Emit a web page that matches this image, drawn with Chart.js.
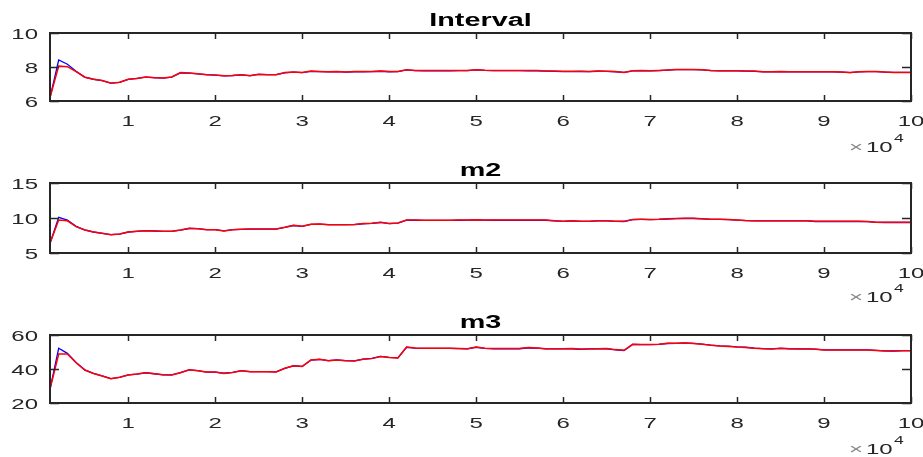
<!DOCTYPE html>
<html>
<head>
<meta charset="utf-8">
<script src="https://cdn.jsdelivr.net/npm/chart.js@4"></script>
<style>
  html, body { margin: 0; padding: 0; background: #fff; overflow: hidden; }
  #wrap { position: relative; width: 923px; height: 457px; }
  #wrap canvas { position: absolute; left: 0; }
</style>
</head>
<body>
<div id="wrap">
  <canvas id="c1" width="923" height="155" style="top:0px"></canvas>
  <canvas id="c2" width="923" height="155" style="top:150px"></canvas>
  <canvas id="c3" width="923" height="155" style="top:302px"></canvas>
</div>
<script>
// sample positions (iterations)
let iters = [
  1000, 2000, 3000, 4000, 5000, 6000, 7000, 8000, 9000, 10000,
  11000, 12000, 13000, 14000, 15000, 16000, 17000, 18000, 19000, 20000,
  21000, 22000, 23000, 24000, 25000, 26000, 27000, 28000, 29000, 30000,
  31000, 32000, 33000, 34000, 35000, 36000, 37000, 38000, 39000, 40000,
  41000, 42000, 43000, 44000, 45000, 46000, 47000, 48000, 49000, 50000,
  51000, 52000, 53000, 54000, 55000, 56000, 57000, 58000, 59000, 60000,
  61000, 62000, 63000, 64000, 65000, 66000, 67000, 68000, 69000, 70000,
  71000, 72000, 73000, 74000, 75000, 76000, 77000, 78000, 79000, 80000,
  81000, 82000, 83000, 84000, 85000, 86000, 87000, 88000, 89000, 90000,
  91000, 92000, 93000, 94000, 95000, 96000, 97000, 98000, 99000, 100000
];

let xTicks = [10000, 20000, 30000, 40000, 50000, 60000, 70000, 80000, 90000, 100000];

// Interval
let intervalBlue = [
  6.20, 8.41, 8.16, 7.75, 7.41, 7.28, 7.20, 7.05, 7.10, 7.27,
  7.33, 7.40, 7.37, 7.35, 7.40, 7.65, 7.64, 7.60, 7.55, 7.52,
  7.48, 7.50, 7.54, 7.49, 7.56, 7.55, 7.55, 7.66, 7.70, 7.67,
  7.74, 7.73, 7.71, 7.73, 7.70, 7.72, 7.72, 7.73, 7.75, 7.72,
  7.73, 7.83, 7.79, 7.78, 7.78, 7.78, 7.78, 7.79, 7.79, 7.83,
  7.80, 7.79, 7.79, 7.79, 7.79, 7.78, 7.78, 7.76, 7.74, 7.73,
  7.73, 7.74, 7.73, 7.75, 7.74, 7.72, 7.68, 7.77, 7.78, 7.77,
  7.79, 7.82, 7.84, 7.85, 7.85, 7.83, 7.79, 7.77, 7.77, 7.77,
  7.76, 7.74, 7.71, 7.71, 7.72, 7.71, 7.71, 7.71, 7.71, 7.71,
  7.71, 7.70, 7.67, 7.71, 7.73, 7.73, 7.70, 7.68, 7.68, 7.68
];
let intervalRed = [
  6.20, 8.05, 8.02, 7.73, 7.40, 7.28, 7.20, 7.05, 7.10, 7.28,
  7.33, 7.41, 7.37, 7.35, 7.41, 7.67, 7.65, 7.60, 7.55, 7.53,
  7.49, 7.50, 7.55, 7.49, 7.57, 7.55, 7.55, 7.67, 7.71, 7.67,
  7.76, 7.74, 7.72, 7.74, 7.71, 7.73, 7.73, 7.74, 7.76, 7.73,
  7.74, 7.84, 7.80, 7.79, 7.79, 7.79, 7.79, 7.80, 7.80, 7.84,
  7.81, 7.80, 7.80, 7.80, 7.80, 7.79, 7.79, 7.77, 7.76, 7.75,
  7.75, 7.75, 7.74, 7.76, 7.75, 7.73, 7.68, 7.78, 7.79, 7.78,
  7.80, 7.83, 7.85, 7.86, 7.86, 7.84, 7.80, 7.78, 7.78, 7.78,
  7.77, 7.76, 7.72, 7.72, 7.73, 7.72, 7.72, 7.72, 7.72, 7.72,
  7.72, 7.71, 7.67, 7.72, 7.74, 7.74, 7.70, 7.68, 7.68, 7.68
];

// m2
let m2Blue = [
  6.40, 10.10, 9.70, 8.80, 8.30, 8.00, 7.81, 7.62, 7.71, 8.00,
  8.10, 8.19, 8.14, 8.10, 8.10, 8.28, 8.50, 8.47, 8.33, 8.33,
  8.15, 8.33, 8.38, 8.42, 8.42, 8.42, 8.42, 8.66, 8.93, 8.80,
  9.08, 9.12, 9.04, 9.04, 9.04, 9.06, 9.18, 9.22, 9.36, 9.19,
  9.28, 9.69, 9.68, 9.66, 9.66, 9.66, 9.66, 9.68, 9.70, 9.72,
  9.70, 9.68, 9.68, 9.68, 9.68, 9.68, 9.68, 9.68, 9.60, 9.53,
  9.60, 9.53, 9.53, 9.60, 9.60, 9.53, 9.50, 9.78, 9.79, 9.78,
  9.80, 9.86, 9.90, 9.93, 9.93, 9.88, 9.80, 9.79, 9.78, 9.70,
  9.63, 9.60, 9.60, 9.60, 9.60, 9.60, 9.60, 9.58, 9.50, 9.50,
  9.50, 9.50, 9.50, 9.50, 9.48, 9.38, 9.36, 9.36, 9.36, 9.36
];
let m2Red = [
  6.40, 9.70, 9.60, 8.76, 8.29, 8.00, 7.81, 7.62, 7.71, 8.00,
  8.10, 8.19, 8.14, 8.10, 8.10, 8.29, 8.52, 8.48, 8.33, 8.33,
  8.14, 8.33, 8.38, 8.43, 8.43, 8.43, 8.43, 8.67, 8.95, 8.81,
  9.10, 9.14, 9.05, 9.05, 9.05, 9.07, 9.20, 9.24, 9.38, 9.20,
  9.30, 9.71, 9.70, 9.68, 9.68, 9.68, 9.68, 9.70, 9.72, 9.74,
  9.72, 9.70, 9.70, 9.70, 9.70, 9.70, 9.70, 9.70, 9.62, 9.55,
  9.62, 9.55, 9.55, 9.62, 9.62, 9.55, 9.52, 9.80, 9.81, 9.80,
  9.82, 9.88, 9.92, 9.95, 9.95, 9.90, 9.82, 9.81, 9.80, 9.72,
  9.65, 9.62, 9.62, 9.62, 9.62, 9.62, 9.62, 9.60, 9.52, 9.52,
  9.52, 9.52, 9.52, 9.52, 9.50, 9.40, 9.38, 9.38, 9.38, 9.38
];

// m3
let m3Blue = [
  28.2, 52.2, 49.2, 43.9, 39.5, 37.4, 35.9, 34.3, 35.1, 36.5,
  37.0, 37.8, 37.2, 36.6, 36.5, 37.8, 39.5, 39.0, 38.2, 38.2,
  37.5, 38.0, 39.0, 38.5, 38.5, 38.5, 38.3, 40.4, 41.9, 41.5,
  45.2, 45.6, 44.9, 45.3, 44.9, 44.8, 45.8, 46.3, 47.4, 46.8,
  46.5, 52.8, 52.3, 52.1, 52.1, 52.1, 52.1, 52.0, 51.8, 52.8,
  52.1, 51.9, 51.9, 51.9, 51.9, 52.5, 52.3, 51.8, 51.8, 51.8,
  51.9, 51.6, 51.8, 52.0, 51.9, 51.3, 50.9, 54.4, 54.3, 54.3,
  54.5, 55.0, 55.1, 55.3, 55.1, 54.6, 54.0, 53.6, 53.4, 53.0,
  52.8, 52.3, 52.0, 51.8, 52.1, 51.9, 51.8, 51.8, 51.7, 51.3,
  51.3, 51.3, 51.2, 51.2, 51.2, 51.0, 50.7, 50.6, 50.8, 50.8
];
let m3Red = [
  28.2, 48.8, 48.8, 43.7, 39.4, 37.4, 35.9, 34.3, 35.1, 36.5,
  37.0, 37.8, 37.2, 36.6, 36.5, 37.8, 39.6, 39.0, 38.2, 38.2,
  37.4, 38.0, 39.0, 38.4, 38.4, 38.4, 38.2, 40.4, 41.9, 41.5,
  45.3, 45.7, 44.9, 45.3, 44.9, 44.7, 45.7, 46.1, 47.3, 46.7,
  46.5, 52.9, 52.4, 52.2, 52.2, 52.2, 52.2, 52.1, 51.9, 52.9,
  52.2, 52.0, 52.0, 52.0, 52.0, 52.6, 52.4, 51.9, 51.9, 51.9,
  52.0, 51.7, 51.7, 51.9, 52.0, 51.4, 51.0, 54.5, 54.4, 54.4,
  54.5, 55.1, 55.2, 55.3, 55.0, 54.5, 53.9, 53.5, 53.3, 52.9,
  52.7, 52.2, 51.9, 51.7, 52.2, 51.9, 51.7, 51.7, 51.6, 51.2,
  51.2, 51.2, 51.2, 51.2, 51.2, 50.9, 50.6, 50.6, 50.8, 50.8
];

const SX = 1.6;              // horizontal text stretch
const AXIS_COLOR = '#262626';

function stretchText(ctx, text, x, y, align, font, color){
    ctx.save();
    ctx.font = font;
    ctx.fillStyle = color;
    ctx.textAlign = align;
    ctx.textBaseline = 'alphabetic';
    ctx.translate(x, y);
    ctx.scale(SX, 1);
    ctx.fillText(text, 0, 0);
    ctx.restore();
}

// box, inward ticks, labels, title and exponent, matlab style
const matlabAxes = {
    id: 'matlabAxes',
    afterDraw(chart, args, opts){
        const ctx = chart.ctx;
        const a = chart.chartArea;
        const xs = chart.scales.x;
        const ys = chart.scales.y;
        ctx.save();
        ctx.strokeStyle = AXIS_COLOR;
        ctx.lineWidth = 1.5;
        // inner tick marks
        ctx.beginPath();
        xs.ticks.forEach(function(t){
            let px = Math.round(xs.getPixelForValue(t.value)) + 0.5;
            ctx.moveTo(px, a.bottom); ctx.lineTo(px, a.bottom - 6);
            ctx.moveTo(px, a.top); ctx.lineTo(px, a.top + 6);
        });
        ys.ticks.forEach(function(t){
            let py = Math.round(ys.getPixelForValue(t.value)) + 0.5;
            ctx.moveTo(a.left, py); ctx.lineTo(a.left + 9, py);
            ctx.moveTo(a.right, py); ctx.lineTo(a.right - 9, py);
        });
        ctx.stroke();
        // box
        ctx.lineWidth = 2;
        ctx.strokeRect(a.left, a.top, a.right - a.left, a.bottom - a.top);
        ctx.restore();

        // tick labels
        const tickFont = '15px "Liberation Sans", Arial, sans-serif';
        xs.ticks.forEach(function(t){
            let px = xs.getPixelForValue(t.value);
            stretchText(ctx, String(t.value / 10000), px, a.bottom + 25, 'center', tickFont, AXIS_COLOR);
        });
        ys.ticks.forEach(function(t){
            let py = ys.getPixelForValue(t.value);
            stretchText(ctx, String(t.value), a.left - 12, py + 5.5, 'right', tickFont, AXIS_COLOR);
        });

        // title
        stretchText(ctx, opts.title, (a.left + a.right) / 2, a.top - 7,
            'center', 'bold 18px "Liberation Sans", Arial, sans-serif', '#000');

        // x exponent
        stretchText(ctx, '\u00d7', 856, 152, 'center', '15px "Liberation Sans", Arial, sans-serif', '#8a8a8a');
        stretchText(ctx, '10', 866, 152, 'left', tickFont, AXIS_COLOR);
        stretchText(ctx, '4', 894, 142, 'left', '11px "Liberation Sans", Arial, sans-serif', AXIS_COLOR);
    }
};

function makePlot(canvasId, title, blue, red, yMin, yMax, yTicks, bottom){
    let canvas = document.getElementById(canvasId);
    let toPoints = function(arr){
        return iters.map(function(x, i){ return {x: x, y: arr[i]}; });
    };
    let config = {
        type: 'line',
        data: {
            datasets: [
                // higher order is drawn first, so red ends up on top
                {data: toPoints(blue), borderColor: '#0000ff', borderWidth: 1.3, pointRadius: 0, tension: 0, order: 2},
                {data: toPoints(red), borderColor: '#ff0000', borderWidth: 1.5, pointRadius: 0, tension: 0, order: 1}
            ]
        },
        options: {
            responsive: false,
            animation: false,
            devicePixelRatio: 1,
            layout: {padding: {top: 33, right: 12, left: 0, bottom: 0}},
            plugins: {
                legend: {display: false},
                tooltip: {enabled: false},
                matlabAxes: {title: title}
            },
            scales: {
                x: {
                    type: 'linear',
                    min: 1000,
                    max: 100000,
                    grid: {display: false, drawTicks: false},
                    border: {display: false},
                    ticks: {display: false},
                    afterBuildTicks: function(scale){
                        scale.ticks = xTicks.map(function(v){ return {value: v}; });
                    },
                    afterFit: function(scale){ scale.height = canvas.height - bottom; }
                },
                y: {
                    min: yMin,
                    max: yMax,
                    grid: {display: false, drawTicks: false},
                    border: {display: false},
                    ticks: {display: false},
                    afterBuildTicks: function(scale){
                        scale.ticks = yTicks.map(function(v){ return {value: v}; });
                    },
                    afterFit: function(scale){ scale.width = 50; }
                }
            }
        },
        plugins: [matlabAxes]
    };
    return new Chart(canvas, config);
}

makePlot('c1', 'Interval', intervalBlue, intervalRed, 6, 10, [6, 8, 10], 101);
makePlot('c2', 'm2', m2Blue, m2Red, 5, 15, [5, 10, 15], 103);
makePlot('c3', 'm3', m3Blue, m3Red, 20, 60, [20, 40, 60], 101);
</script>
</body>
</html>
